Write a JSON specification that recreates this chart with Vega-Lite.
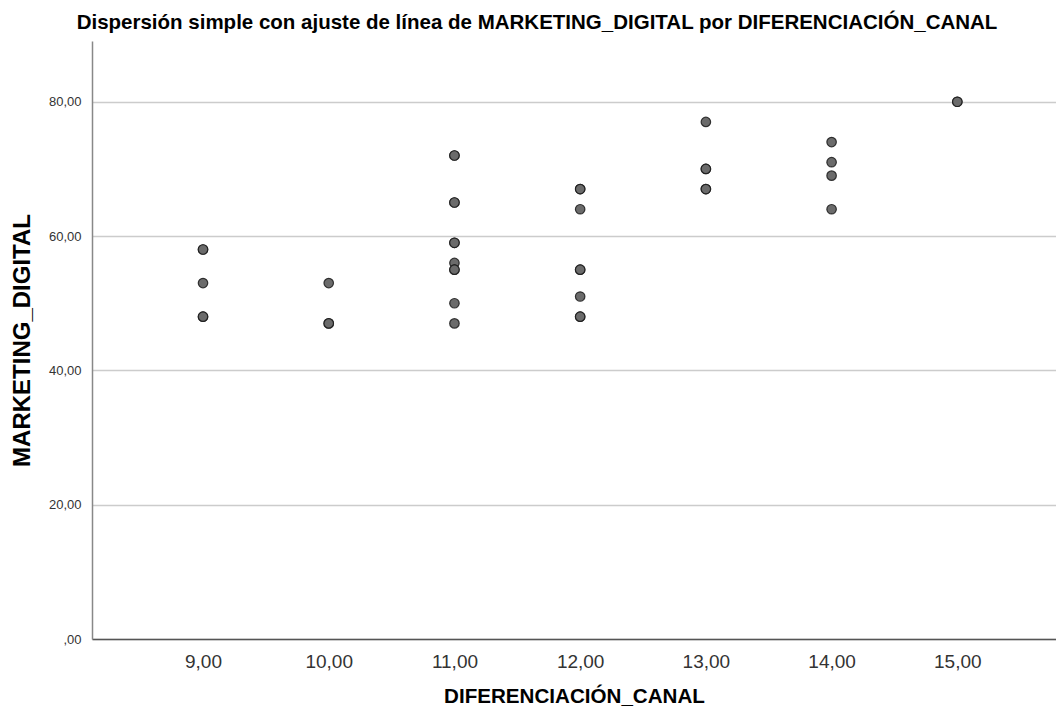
{
  "$schema": "https://vega.github.io/schema/vega-lite/v6.json",
  "width": 964,
  "height": 598,
  "autosize": {"type": "none"},
  "padding": {"left": 92, "top": 41, "right": 0, "bottom": 85},
  "background": "white",
  "title": {
    "text": "Dispersión simple con ajuste de línea de MARKETING_DIGITAL por DIFERENCIACIÓN_CANAL",
    "font": "Liberation Sans",
    "fontSize": 20.5,
    "fontWeight": "bold",
    "color": "#000000",
    "anchor": "middle",
    "frame": "group",
    "dx": -37,
    "offset": 8
  },
  "data": {
    "values": [
      {"DIFERENCIACION_CANAL": 9, "MARKETING_DIGITAL": 58},
      {"DIFERENCIACION_CANAL": 9, "MARKETING_DIGITAL": 58},
      {"DIFERENCIACION_CANAL": 9, "MARKETING_DIGITAL": 53},
      {"DIFERENCIACION_CANAL": 9, "MARKETING_DIGITAL": 48},
      {"DIFERENCIACION_CANAL": 9, "MARKETING_DIGITAL": 48},
      {"DIFERENCIACION_CANAL": 10, "MARKETING_DIGITAL": 53},
      {"DIFERENCIACION_CANAL": 10, "MARKETING_DIGITAL": 47},
      {"DIFERENCIACION_CANAL": 10, "MARKETING_DIGITAL": 47},
      {"DIFERENCIACION_CANAL": 11, "MARKETING_DIGITAL": 72},
      {"DIFERENCIACION_CANAL": 11, "MARKETING_DIGITAL": 72},
      {"DIFERENCIACION_CANAL": 11, "MARKETING_DIGITAL": 65},
      {"DIFERENCIACION_CANAL": 11, "MARKETING_DIGITAL": 65},
      {"DIFERENCIACION_CANAL": 11, "MARKETING_DIGITAL": 59},
      {"DIFERENCIACION_CANAL": 11, "MARKETING_DIGITAL": 59},
      {"DIFERENCIACION_CANAL": 11, "MARKETING_DIGITAL": 56},
      {"DIFERENCIACION_CANAL": 11, "MARKETING_DIGITAL": 55},
      {"DIFERENCIACION_CANAL": 11, "MARKETING_DIGITAL": 55},
      {"DIFERENCIACION_CANAL": 11, "MARKETING_DIGITAL": 50},
      {"DIFERENCIACION_CANAL": 11, "MARKETING_DIGITAL": 47},
      {"DIFERENCIACION_CANAL": 12, "MARKETING_DIGITAL": 67},
      {"DIFERENCIACION_CANAL": 12, "MARKETING_DIGITAL": 67},
      {"DIFERENCIACION_CANAL": 12, "MARKETING_DIGITAL": 64},
      {"DIFERENCIACION_CANAL": 12, "MARKETING_DIGITAL": 55},
      {"DIFERENCIACION_CANAL": 12, "MARKETING_DIGITAL": 55},
      {"DIFERENCIACION_CANAL": 12, "MARKETING_DIGITAL": 51},
      {"DIFERENCIACION_CANAL": 12, "MARKETING_DIGITAL": 48},
      {"DIFERENCIACION_CANAL": 12, "MARKETING_DIGITAL": 48},
      {"DIFERENCIACION_CANAL": 13, "MARKETING_DIGITAL": 77},
      {"DIFERENCIACION_CANAL": 13, "MARKETING_DIGITAL": 70},
      {"DIFERENCIACION_CANAL": 13, "MARKETING_DIGITAL": 70},
      {"DIFERENCIACION_CANAL": 13, "MARKETING_DIGITAL": 67},
      {"DIFERENCIACION_CANAL": 13, "MARKETING_DIGITAL": 67},
      {"DIFERENCIACION_CANAL": 14, "MARKETING_DIGITAL": 74},
      {"DIFERENCIACION_CANAL": 14, "MARKETING_DIGITAL": 71},
      {"DIFERENCIACION_CANAL": 14, "MARKETING_DIGITAL": 69},
      {"DIFERENCIACION_CANAL": 14, "MARKETING_DIGITAL": 64},
      {"DIFERENCIACION_CANAL": 15, "MARKETING_DIGITAL": 80},
      {"DIFERENCIACION_CANAL": 15, "MARKETING_DIGITAL": 80}
    ]
  },
  "mark": {
    "type": "point",
    "shape": "circle",
    "filled": true,
    "size": 90,
    "fill": "#6b6b6b",
    "stroke": "#1a1a1a",
    "strokeWidth": 1.2,
    "opacity": 1,
    "fillOpacity": 1,
    "strokeOpacity": 0.85
  },
  "encoding": {
    "x": {
      "field": "DIFERENCIACION_CANAL",
      "type": "quantitative",
      "scale": {"domain": [8.117, 15.785], "nice": false, "zero": false},
      "axis": {
        "title": "DIFERENCIACIÓN_CANAL",
        "values": [9, 10, 11, 12, 13, 14, 15],
        "labelExpr": "replace(format(datum.value, '.2f'), '.', ',')",
        "grid": false,
        "ticks": false,
        "domainColor": "#555555",
        "domainWidth": 1.5,
        "labelFont": "Liberation Sans",
        "labelFontSize": 19,
        "labelColor": "#333333",
        "labelPadding": 13,
        "titleFont": "Liberation Sans",
        "titleFontSize": 20.6,
        "titleFontWeight": "bold",
        "titleColor": "#000000",
        "titlePadding": 15
      }
    },
    "y": {
      "field": "MARKETING_DIGITAL",
      "type": "quantitative",
      "scale": {"domain": [0, 89.05], "nice": false},
      "axis": {
        "title": "MARKETING_DIGITAL",
        "values": [0, 20, 40, 60, 80],
        "labelExpr": "datum.value == 0 ? ',00' : replace(format(datum.value, '.2f'), '.', ',')",
        "grid": true,
        "gridColor": "#cccccc",
        "gridWidth": 1.5,
        "ticks": false,
        "domainColor": "#888888",
        "domainWidth": 1.5,
        "labelFont": "Liberation Sans",
        "labelFontSize": 13,
        "labelColor": "#333333",
        "labelPadding": 11,
        "titleFont": "Liberation Sans",
        "titleFontSize": 24,
        "titleFontWeight": "bold",
        "titleColor": "#000000",
        "titlePadding": 14
      }
    }
  },
  "config": {"view": {"stroke": null}}
}
